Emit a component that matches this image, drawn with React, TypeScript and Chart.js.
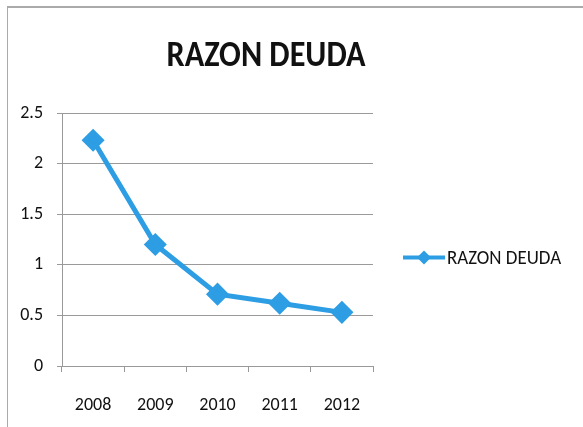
import React, { useEffect, useRef } from "react";
import { Chart, registerables } from "chart.js";

Chart.register(...registerables);

const TITLE = "RAZON DEUDA";
const SERIES_NAME = "RAZON DEUDA";
const YEARS = ["2008", "2009", "2010", "2011", "2012"];
const RAZON_DEUDA = [2.23, 1.2, 0.71, 0.62, 0.53];
const Y_TICKS = [0, 0.5, 1, 1.5, 2, 2.5];

const BLUE = "#2d9de4";
const FONT = "Carlito, Lato, 'Open Sans', sans-serif";

const decorPlugin = {
  id: "decor",
  afterDraw(chart: any) {
    const ctx = chart.ctx;
    const area = chart.chartArea;
    ctx.save();
    // Title (narrowed to mimic a condensed face)
    ctx.save();
    ctx.translate(266, 57);
    ctx.scale(0.87, 1);
    ctx.fillStyle = "#111";
    ctx.font = `bold 37px ${FONT}`;
    ctx.textAlign = "center";
    ctx.textBaseline = "middle";
    ctx.fillText(TITLE, 0, 0);
    ctx.restore();
    // Legend
    const ly = (area.top + area.bottom) / 2 + 18;
    const x0 = 403;
    const x1 = 445;
    ctx.strokeStyle = BLUE;
    ctx.lineWidth = 4;
    ctx.beginPath();
    ctx.moveTo(x0, ly);
    ctx.lineTo(x1, ly);
    ctx.stroke();
    const cx = (x0 + x1) / 2;
    const r = 7;
    ctx.fillStyle = BLUE;
    ctx.beginPath();
    ctx.moveTo(cx, ly - r);
    ctx.lineTo(cx + r, ly);
    ctx.lineTo(cx, ly + r);
    ctx.lineTo(cx - r, ly);
    ctx.closePath();
    ctx.fill();
    ctx.save();
    ctx.translate(x1 + 2, ly + 1);
    ctx.scale(0.9, 1);
    ctx.fillStyle = "#111";
    ctx.font = `21px ${FONT}`;
    ctx.textAlign = "left";
    ctx.textBaseline = "middle";
    ctx.fillText(SERIES_NAME, 0, 0);
    ctx.restore();
    ctx.restore();
  },
};

export default function App() {
  const ref = useRef<HTMLCanvasElement | null>(null);
  useEffect(() => {
    if (!ref.current) return;
    const chart = new Chart(ref.current, {
      type: "line",
      data: {
        labels: YEARS,
        datasets: [
          {
            label: SERIES_NAME,
            data: RAZON_DEUDA,
            borderColor: BLUE,
            backgroundColor: BLUE,
            borderWidth: 5,
            pointStyle: "rectRot",
            pointRadius: 8,
            pointHoverRadius: 8,
            pointBackgroundColor: BLUE,
            pointBorderColor: BLUE,
            tension: 0,
          },
        ],
      },
      options: {
        responsive: false,
        animation: false,
        layout: { padding: { top: 113, right: 210, bottom: 0, left: 0 } },
        plugins: {
          legend: { display: false },
          title: { display: false },
          tooltip: { enabled: false },
        },
        scales: {
          x: {
            offset: true,
            grid: {
              offset: true,
              drawOnChartArea: false,
              drawTicks: true,
              tickLength: 6,
              color: "#999",
            },
            border: { color: "#999" },
            ticks: {
              color: "#111",
              font: { family: FONT, size: 18 },
              padding: 23,
            },
            afterFit(scale: any) {
              scale.height = 61;
            },
          },
          y: {
            min: 0,
            max: 2.5,
            afterBuildTicks(scale: any) {
              scale.ticks = Y_TICKS.map((v) => ({ value: v }));
            },
            grid: {
              color: "#9a9a9a",
              tickLength: 5,
            },
            border: { color: "#999" },
            ticks: {
              color: "#111",
              font: { family: FONT, size: 18 },
              padding: 14,
              callback: (v: any) => String(v),
            },
            afterFit(scale: any) {
              scale.width = 62;
            },
          },
        },
      },
      plugins: [decorPlugin],
    });
    return () => chart.destroy();
  }, []);

  return (
    <div style={{ position: "fixed", left: 0, top: 0, width: 583, height: 427, background: "#fff" }}>
      <div
        style={{
          position: "absolute",
          left: 7,
          top: 6,
          width: 590,
          height: 430,
          borderLeft: "1px solid #aaa",
          borderTop: "2px solid #aaa",
        }}
      />
      <canvas ref={ref} width={583} height={427} style={{ position: "absolute", left: 0, top: 0 }} />
    </div>
  );
}
